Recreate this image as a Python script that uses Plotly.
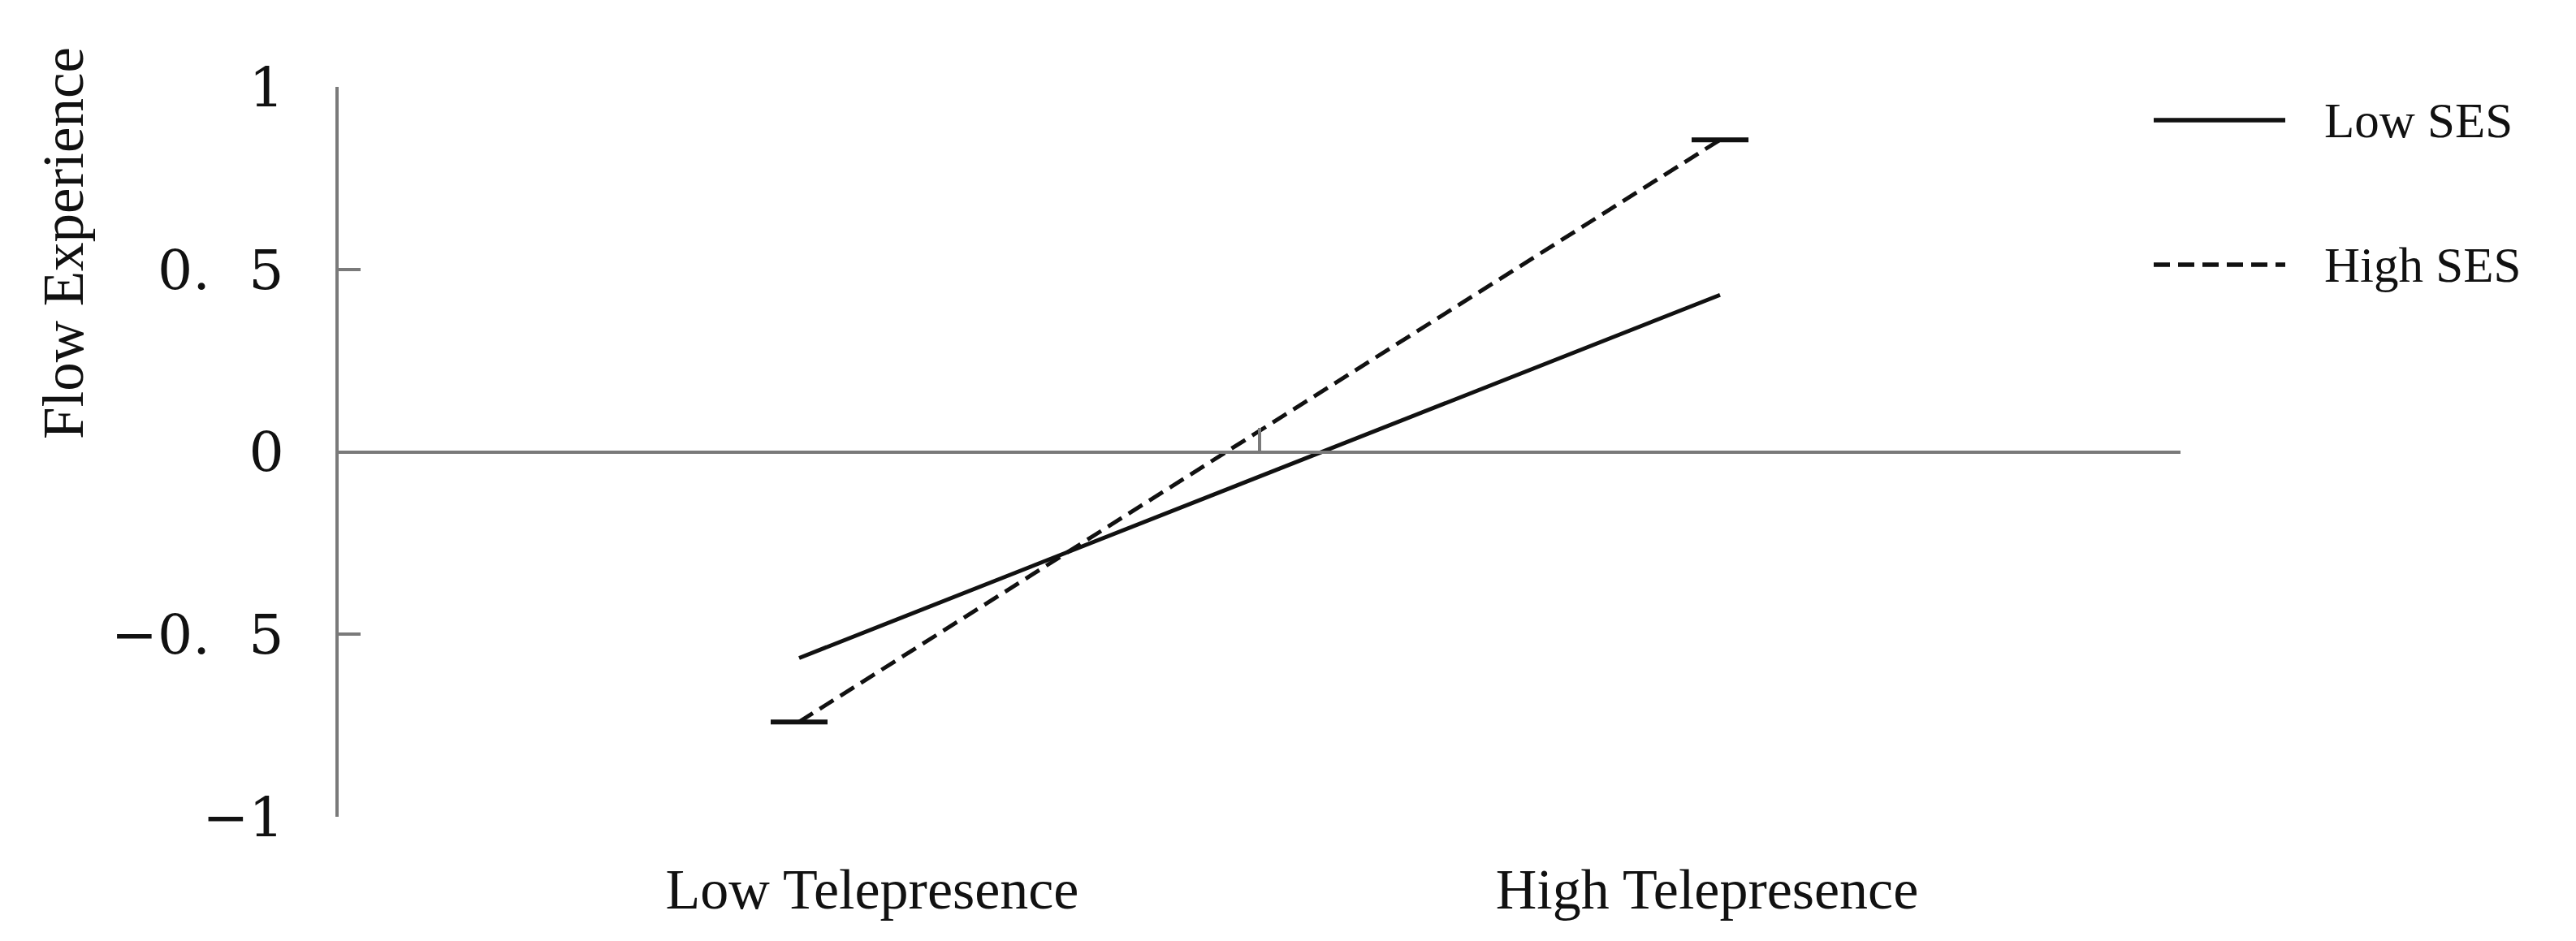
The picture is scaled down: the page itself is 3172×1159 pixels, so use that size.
import plotly.graph_objects as go

# ---- data ----
categories = ["Low Telepresence", "High Telepresence"]
low_ses = [-0.565, 0.43]
high_ses = [-0.74, 0.855]
series_names = ["Low SES", "High SES"]
y_tickvals = [-1, -0.5, 0, 0.5, 1]
y_ticktext = ["\u22121", "\u22120.\u2002\u20095", "0", "0.\u2002\u20095", "1"]
y_title = "Flow Experience"

# ---- layout geometry (pixels) ----
W, H = 3172, 1159
L, R, T, B = 409, 495, 99, 161
PW = W - L - R
PH = H - T - B


def px_x(px):
    return (px - L) / PW


def px_y(py):
    return (H - B - py) / PH


serif = "Liberation Serif, Times New Roman, serif"
ink = "#111111"
axis_col = "#7a7a7a"

fig = go.Figure()

fig.add_trace(go.Scatter(
    x=categories, y=low_ses, name=series_names[0], mode="lines",
    line=dict(color="#111111", width=5),
    showlegend=False, hoverinfo="skip",
))
fig.add_trace(go.Scatter(
    x=categories, y=high_ses, name=series_names[1], mode="lines+markers",
    line=dict(color="#111111", width=5, dash="20px,10px"),
    marker=dict(symbol="line-ew", size=50, line=dict(color="#111111", width=6)),
    showlegend=False, hoverinfo="skip",
))
# carrier for the label axis
fig.add_trace(go.Scatter(
    x=categories, y=low_ses, xaxis="x2", mode="markers",
    marker=dict(opacity=0), showlegend=False, hoverinfo="skip",
))

# label-axis range so that the category labels sit where the original placed them
lab_low_px, lab_high_px = 1066, 2094
ppu = lab_high_px - lab_low_px
r0 = -(lab_low_px - L) / ppu
r1 = r0 + PW / ppu

fig.update_layout(
    width=W, height=H,
    margin=dict(l=L, r=R, t=T, b=B),
    paper_bgcolor="white", plot_bgcolor="white",
    showlegend=False,
    xaxis=dict(
        type="category", categoryorder="array", categoryarray=categories,
        range=[-0.5, 1.5], anchor="free", position=0.5,
        showline=True, linecolor=axis_col, linewidth=3.5,
        ticks="inside", tickson="boundaries", ticklen=28, tickwidth=3.5, tickcolor=axis_col,
        showticklabels=False, showgrid=False, zeroline=False,
    ),
    xaxis2=dict(
        type="category", categoryorder="array", categoryarray=categories,
        range=[r0, r1], overlaying="x", anchor="y", side="bottom",
        showline=False, ticks="", showgrid=False, zeroline=False,
        tickfont=dict(family=serif, size=70, color=ink),
        ticklabelstandoff=42,
    ),
    yaxis=dict(
        range=[-1, 1], tickvals=y_tickvals, ticktext=y_ticktext,
        showline=True, linecolor=axis_col, linewidth=3.5,
        ticks="inside", ticklen=27, tickwidth=3.5, tickcolor=axis_col,
        showgrid=False, zeroline=False,
        tickfont=dict(family="DejaVu Serif, serif", size=68, color=ink),
        ticklabelstandoff=50,
    ),
)

# y-axis title (placed high, as in the original)
fig.add_annotation(
    text=y_title, xref="paper", yref="paper",
    x=px_x(70), y=px_y(292), xanchor="center", yanchor="middle",
    textangle=-90, showarrow=False,
    font=dict(family=serif, size=71, color=ink),
)

# custom legend
legend_rows = [
    (series_names[0], 140, "solid"),
    (series_names[1], 318, "20px,10px"),
]
for name, py, dash in legend_rows:
    fig.add_shape(
        type="line", xref="paper", yref="paper",
        x0=px_x(2644), x1=px_x(2806), y0=px_y(py), y1=px_y(py),
        line=dict(color="#111111", width=5.5, dash=dash),
    )
    fig.add_annotation(
        text=name, xref="paper", yref="paper",
        x=px_x(2852), y=px_y(py), xanchor="left", yanchor="middle",
        showarrow=False, font=dict(family=serif, size=61, color=ink),
    )

fig.write_html("out.html")
